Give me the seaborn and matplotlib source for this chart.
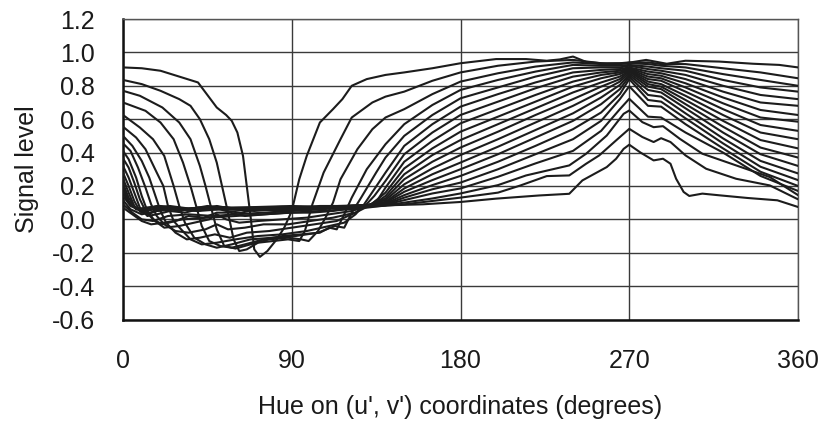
import pandas as pd
import matplotlib
matplotlib.use("Agg")
import matplotlib.pyplot as plt
import seaborn as sns
from matplotlib.ticker import MultipleLocator, FormatStrFormatter

# shared hue grid for the right-hand part of most curves
right_hue = [140, 150, 165, 180, 200, 220, 240, 255, 265, 270, 280, 287, 300, 320, 340, 360]

hue_00 = [0, 10, 20, 30, 40, 45, 50, 55, 58, 61, 64, 66, 68, 70, 73, 77, 82, 86, 90, 94, 98, 105, 112, 117, 122,
          130, 140, 150, 165, 180, 199, 215, 226, 233, 240, 247, 258, 268, 279, 290, 300, 318, 336, 350, 360]
lvl_00 = [.91, .905, .89, .855, .82, .745, .67, .625, .59, .52, .38, .20, .02, -.18, -.225, -.19, -.12, -.05, .05, .24,
          .38, .58, .66, .72, .80, .84, .865, .88, .905, .935, .96, .96, .95, .958, .975, .943, .932, .935, .955, .932,
          .95, .945, .932, .925, .91]

hue_01 = [0, 10, 20, 30, 36, 41, 46, 50, 53, 56, 59, 62, 66, 72, 80, 88, 94, 97, 101, 107, 116, 122, 133] + right_hue
lvl_01 = [.835, .81, .77, .72, .68, .60, .48, .34, .19, .04, -.12, -.19, -.18, -.14, -.13, -.12, -.13, -.07, .09, .28,
          .48, .61, .70,
          .735, .765, .83, .88, .92, .945, .955, .935, .935, .94, .94, .93, .93, .905, .88, .845]

hue_02 = [0, 9, 21, 30, 36, 41, 44, 47, 50, 54, 60, 68, 78, 88, 95, 99, 104, 108, 112, 116, 125, 133] + right_hue
lvl_02 = [.77, .74, .67, .58, .48, .32, .20, .07, -.06, -.16, -.175, -.15, -.12, -.11, -.12, -.13, -.07, .01, .10, .24,
          .42, .54,
          .61, .66, .75, .825, .875, .915, .94, .93, .93, .935, .93, .92, .91, .87, .835, .80]

hue_03 = [0, 12, 20, 27, 32, 36, 39, 42, 46, 52, 58, 65, 75, 85, 95, 105, 110, 114, 118, 122, 130] + right_hue
lvl_03 = [.70, .65, .58, .48, .34, .20, .08, -.04, -.13, -.16, -.17, -.15, -.12, -.10, -.09, -.08, -.05, -.06, .03,
          .13, .30,
          .45, .57, .685, .775, .835, .885, .925, .92, .92, .925, .915, .905, .89, .835, .79, .765]

hue_04 = [0, 9, 16, 22, 27, 30, 33, 38, 44, 50, 58, 68, 80, 92, 104, 113, 118, 122, 127, 135] + right_hue
lvl_04 = [.625, .55, .48, .38, .20, .08, -.02, -.11, -.15, -.17, -.15, -.12, -.11, -.10, -.08, -.04, -.05, .04, .13,
          .28,
          .37, .50, .625, .725, .79, .855, .905, .91, .91, .92, .90, .89, .865, .80, .745, .72]

hue_05 = [0, 7, 12, 18, 21.5, 24, 27, 31, 36, 42, 50, 60, 72, 85, 98, 110, 118, 124, 128, 134] + right_hue
lvl_05 = [.555, .49, .42, .28, .20, .08, -.01, -.06, -.12, -.15, -.14, -.12, -.10, -.09, -.07, -.04, -.02, .03, .08,
          .18,
          .28, .44, .57, .675, .75, .82, .88, .895, .90, .91, .885, .875, .84, .765, .70, .68]

hue_06 = [0, 5, 10, 14, 17, 20, 23, 28, 34, 41, 49, 57, 66, 78, 90, 102, 114, 124, 129, 134] + right_hue
lvl_06 = [.50, .44, .35, .25, .15, .05, -.02, -.08, -.12, -.11, -.09, -.11, -.08, -.07, -.05, -.03, -.01, .04, .08,
          .14,
          .23, .39, .52, .625, .705, .785, .855, .88, .89, .905, .87, .86, .815, .73, .655, .625]

hue_07 = [0, 4, 8, 12, 15, 18, 22, 28, 35, 44, 50, 56, 65, 75, 88, 100, 112, 124, 131, 136] + right_hue
lvl_07 = [.455, .41, .31, .19, .09, .02, -.03, -.07, -.08, -.06, -.03, -.06, -.05, -.03, -.03, -.01, .01, .04, .08,
          .12,
          .19, .345, .47, .575, .66, .745, .825, .865, .88, .90, .855, .845, .79, .695, .61, .585]

hue_08 = [0, 3, 7, 10, 13, 17, 22, 30, 38, 46, 50, 55, 62, 72, 85, 98, 110, 122, 132] + right_hue
lvl_08 = [.41, .36, .25, .14, .05, -.01, -.05, -.04, -.02, .0, .03, .0, -.02, -.01, .0, .01, .03, .05, .085,
          .16, .305, .425, .525, .615, .705, .795, .845, .87, .895, .84, .83, .765, .66, .565, .53]

hue_09 = [0, 3, 6, 9, 12, 16, 21, 28, 35, 43, 50, 57, 65, 76, 88, 100, 112, 124, 133] + right_hue
lvl_09 = [.365, .31, .22, .12, .05, .0, -.03, -.01, .02, .01, .04, .04, .02, .03, .04, .04, .05, .07, .085,
          .14, .27, .385, .475, .57, .665, .76, .82, .855, .89, .825, .81, .74, .625, .52, .48]

hue_10 = [0, 3, 6, 9, 13, 18, 25, 33, 40, 48, 55, 63, 72, 84, 96, 108, 120, 130] + right_hue
lvl_10 = [.32, .25, .16, .07, .02, .03, .05, .04, .06, .07, .05, .04, .06, .05, .06, .07, .07, .08,
          .125, .24, .345, .43, .525, .625, .72, .795, .84, .885, .81, .795, .715, .59, .475, .425]

hue_11 = [0, 3, 6, 9, 13, 18, 25, 32, 40, 50, 60, 70, 82, 95, 108, 120, 130] + right_hue
lvl_11 = [.28, .20, .11, .05, .03, .05, .07, .06, .05, .08, .06, .05, .06, .07, .07, .08, .085,
          .115, .21, .305, .385, .48, .58, .68, .765, .825, .875, .795, .78, .69, .555, .43, .37]

hue_12 = [0, 3, 6, 10, 15, 22, 30, 40, 50, 60, 70, 82, 95, 108, 120, 130] + right_hue
lvl_12 = [.245, .16, .08, .04, .06, .07, .05, .07, .06, .07, .07, .06, .07, .075, .08, .085,
          .105, .185, .27, .34, .435, .535, .635, .73, .805, .865, .775, .76, .665, .52, .39, .32]

hue_13 = [0, 3, 7, 12, 18, 26, 35, 45, 55, 65, 78, 90, 105, 120, 132] + right_hue
lvl_13 = [.215, .13, .06, .06, .08, .07, .06, .08, .07, .06, .07, .07, .08, .08, .085,
          .10, .165, .235, .30, .39, .49, .59, .69, .78, .855, .745, .735, .635, .485, .35, .275]

hue_14 = [0, 3, 7, 12, 20, 30, 40, 50, 60, 72, 85, 100, 115, 130] + right_hue
lvl_14 = [.19, .11, .06, .07, .08, .06, .07, .075, .065, .07, .075, .07, .08, .085,
          .095, .145, .205, .26, .345, .44, .54, .64, .75, .84, .715, .705, .605, .455, .315, .235]

hue_15 = [0, 3, 8, 15, 25, 35, 48, 60, 75, 90, 105, 120, 133] + right_hue
lvl_15 = [.165, .10, .06, .07, .08, .065, .075, .07, .075, .08, .075, .08, .085,
          .09, .13, .18, .22, .30, .39, .48, .59, .72, .797, .68, .675, .57, .425, .285, .20]

hue_16 = [0, 4, 10, 18, 28, 40, 52, 65, 80, 95, 110, 125] + right_hue
lvl_16 = [.14, .08, .05, .06, .07, .06, .07, .065, .07, .075, .07, .08,
          .088, .115, .155, .185, .255, .335, .41, .53, .66, .722, .615, .61, .52, .40, .26, .17]

hue_17 = [0, 4, 10, 18, 28, 40, 52, 65, 80, 95, 110, 125,
          140, 150, 165, 180, 200, 215, 238, 247, 258, 267, 270, 277, 283, 288, 297, 309, 327, 345, 360]
lvl_17 = [.115, .06, .03, .05, .06, .05, .06, .055, .06, .065, .07, .075,
          .085, .10, .125, .155, .205, .263, .323, .393, .502, .632, .652, .582, .552, .558, .482, .393, .323, .253,
          .145]

hue_18 = [0, 5, 10, 16, 24, 35, 48, 60, 75, 90, 105, 120,
          140, 150, 165, 180, 200, 212, 226, 238, 247, 254, 263, 270, 277, 283, 287, 292, 300, 311, 327, 345, 360]
lvl_18 = [.09, .04, .0, -.01, .02, .03, .02, .03, .04, .05, .06, .07,
          .082, .09, .11, .13, .16, .203, .259, .263, .333, .383, .473, .542, .493, .463, .486, .463, .383, .303, .243,
          .203, .12]

hue_19 = [0, 5, 10, 15, 22, 32, 45, 60, 75, 90, 105, 120, 130,
          141, 160, 180, 199, 222, 238, 245, 251, 258, 263, 267, 270, 276, 283, 288, 292, 295, 299, 302, 309, 318, 333,
          349, 360]
lvl_19 = [.07, .03, -.01, -.03, -.02, .0, .01, .02, .03, .04, .05, .06, .07,
          .084, .09, .104, .124, .143, .153, .233, .27, .313, .363, .422, .447, .40, .353, .363, .333, .243, .164, .14,
          .154, .144, .128, .114, .074]

curves = [(hue_00, lvl_00), (hue_01, lvl_01), (hue_02, lvl_02), (hue_03, lvl_03), (hue_04, lvl_04),
          (hue_05, lvl_05), (hue_06, lvl_06), (hue_07, lvl_07), (hue_08, lvl_08), (hue_09, lvl_09),
          (hue_10, lvl_10), (hue_11, lvl_11), (hue_12, lvl_12), (hue_13, lvl_13), (hue_14, lvl_14),
          (hue_15, lvl_15), (hue_16, lvl_16), (hue_17, lvl_17), (hue_18, lvl_18), (hue_19, lvl_19)]

rows = []
for i, (h, v) in enumerate(curves):
    assert len(h) == len(v), (i, len(h), len(v))
    for a, b in zip(h, v):
        rows.append({"curve": i, "hue": a, "level": b})
df = pd.DataFrame(rows)

x_ticks = [0, 90, 180, 270, 360]
y_ticks = [-0.6, -0.4, -0.2, 0.0, 0.2, 0.4, 0.6, 0.8, 1.0, 1.2]

sns.set_style("white")
plt.rcParams["font.family"] = ["Liberation Sans", "DejaVu Sans"]
plt.rcParams["axes.unicode_minus"] = False

fig = plt.figure(figsize=(8.24, 4.23), dpi=100)
ax = fig.add_axes([123 / 824, 1 - 319.5 / 423, 675 / 824, 300.5 / 423])

sns.lineplot(data=df, x="hue", y="level", hue="curve", units="curve", estimator=None, sort=False,
             palette=["#1c1c1c"] * len(curves), legend=False, linewidth=1.5, ax=ax, zorder=3)

ax.set_xlim(0, 360)
ax.set_ylim(-0.6, 1.2)
ax.set_xticks(x_ticks)
ax.set_yticks(y_ticks)
ax.yaxis.set_major_formatter(FormatStrFormatter("%.1f"))
ax.xaxis.set_minor_locator(MultipleLocator(10))
ax.yaxis.set_minor_locator(MultipleLocator(0.05))
ax.grid(True, which="major", color="#3a3a3a", linewidth=1.0, zorder=1)

ax.tick_params(axis="both", which="major", length=0, labelsize=18, colors="#1a1a1a")
ax.tick_params(axis="y", which="major", pad=20)
ax.tick_params(axis="x", which="major", pad=21)
ax.tick_params(axis="both", which="minor", direction="in", length=5, width=1.0, color="#222222")

for side in ["top", "right"]:
    ax.spines[side].set_color("#555555")
    ax.spines[side].set_linewidth(1.0)
for side in ["left", "bottom"]:
    ax.spines[side].set_color("#111111")
    ax.spines[side].set_linewidth(1.8)

ax.set_xlabel("Hue on (u', v') coordinates (degrees)", fontsize=18, labelpad=16, color="#1a1a1a")
ax.set_ylabel("Signal level", fontsize=18, labelpad=9, color="#1a1a1a")

fig.savefig("out.png", dpi=100)
